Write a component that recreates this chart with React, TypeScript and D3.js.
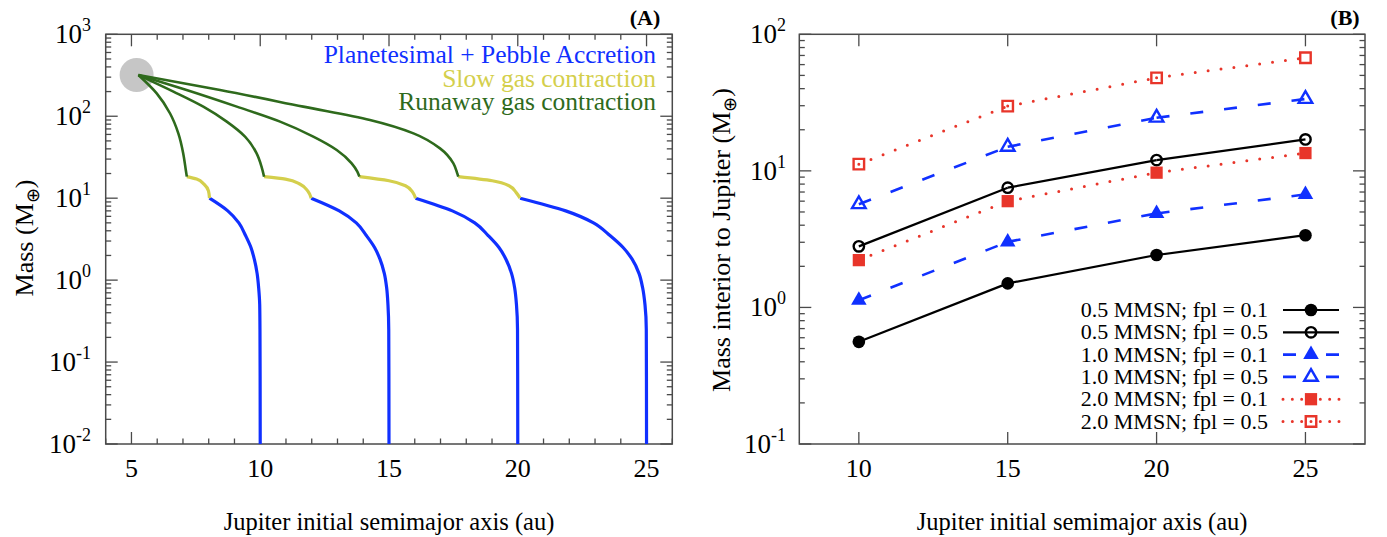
import React, { useEffect, useRef } from "react";
import * as d3 from "d3";

// ---- panel (A): formation tracks, points are [a (au), mass (M_earth)] ----
const jupiterNow: [number, number] = [5.2, 318];

const runawayTracks: [number, number][][] = [
  [[5.27, 318], [5.98, 190], [6.5, 108], [6.82, 61.8], [7.01, 35.2], [7.11, 22.1], [7.15, 18.3]],
  [[5.27, 318], [6.63, 200], [7.79, 131], [8.7, 85.9], [9.41, 56.4], [9.86, 35.2], [10.05, 24.3], [10.15, 18.3]],
  [[5.27, 318], [7.14, 209], [9.09, 131], [10.77, 85.9], [12.06, 56.4], [12.97, 38.7], [13.55, 26.6], [13.77, 21.1], [13.85, 18.3]],
  [[5.27, 318], [8.44, 209], [11.67, 131], [14.26, 89.9], [15.95, 61.8], [16.98, 40.5], [17.5, 26.6], [17.65, 20.1], [17.69, 18.3]],
];

const slowTracks: [number, number][][] = [
  [[7.15, 18.3], [7.53, 17.1], [7.82, 14.8], [7.99, 12.3], [8.03, 10]],
  [[10.15, 18.3], [10.98, 17.1], [11.55, 14.8], [11.84, 12.3], [11.98, 10]],
  [[13.85, 18.3], [15.0, 16.3], [15.64, 14.2], [15.93, 11.7], [16.03, 10]],
  [[17.69, 18.3], [19.01, 16.3], [19.66, 14.2], [19.94, 11.7], [20.09, 10]],
];

const accretionTracks: [number, number][][] = [
  [[8.03, 10], [8.74, 7], [9.17, 5], [9.43, 3.5], [9.64, 2.5], [9.77, 1.8], [9.88, 1.2], [9.94, 0.8], [9.98, 0.5], [9.99, 0.25], [10.0, 0.01]],
  [[11.98, 10], [13.07, 7], [13.73, 5], [14.12, 3.5], [14.44, 2.5], [14.65, 1.8], [14.82, 1.2], [14.91, 0.8], [14.96, 0.5], [14.99, 0.25], [15.0, 0.01]],
  [[16.03, 10], [17.46, 7], [18.33, 5], [18.85, 3.5], [19.27, 2.5], [19.54, 1.8], [19.76, 1.2], [19.88, 0.8], [19.95, 0.5], [19.99, 0.25], [20.0, 0.01]],
  [[20.09, 10], [21.86, 7], [22.94, 5], [23.58, 3.5], [24.09, 2.5], [24.44, 1.8], [24.71, 1.2], [24.85, 0.8], [24.94, 0.5], [24.99, 0.25], [25.0, 0.01]],
];

const legendA = [
  { label: "Planetesimal + Pebble Accretion", color: "#1030ff" },
  { label: "Slow gas contraction", color: "#d4cf4c" },
  { label: "Runaway gas contraction", color: "#2e6a1c" },
];

const ticksAx = [5, 10, 15, 20, 25];
const expsA = [-2, -1, 0, 1, 2, 3];

// ---- panel (B): mass interior to Jupiter ----
const initialAxis = [10, 15, 20, 25];
const m05fpl01 = [0.56, 1.5, 2.42, 3.38];
const m05fpl05 = [2.8, 7.53, 12.0, 17.0];
const m10fpl01 = [1.13, 3.02, 4.88, 6.72];
const m10fpl05 = [5.7, 15.0, 24.5, 33.6];
const m20fpl01 = [2.22, 6.0, 9.7, 13.5];
const m20fpl05 = [11.2, 29.8, 48.0, 67.4];

const ticksBx = [10, 15, 20, 25];
const expsB = [-1, 0, 1, 2];

const seriesB = [
  { label: "0.5 MMSN; fpl = 0.1", values: m05fpl01, color: "#000000", style: "solid", marker: "circle", filled: true },
  { label: "0.5 MMSN; fpl = 0.5", values: m05fpl05, color: "#000000", style: "solid", marker: "circle", filled: false },
  { label: "1.0 MMSN; fpl = 0.1", values: m10fpl01, color: "#1030ff", style: "dash", marker: "triangle", filled: true },
  { label: "1.0 MMSN; fpl = 0.5", values: m10fpl05, color: "#1030ff", style: "dash", marker: "triangle", filled: false },
  { label: "2.0 MMSN; fpl = 0.1", values: m20fpl01, color: "#e8352a", style: "dot", marker: "square", filled: true },
  { label: "2.0 MMSN; fpl = 0.5", values: m20fpl05, color: "#e8352a", style: "dot", marker: "square", filled: false },
];

const FONT = "'Liberation Serif', 'Times New Roman', serif";
const FRAME = "#4a4a4a";

const App: React.FC = () => {
  const svgRef = useRef<SVGSVGElement | null>(null);

  useEffect(() => {
    const svg = d3.select(svgRef.current);
    svg.selectAll("*").remove();

    const top = 34.3;
    const bottom = 444;

    const xA = d3.scaleLinear().domain([4, 26]).range([105.7, 672.3]);
    const yA = d3.scaleLog().domain([0.01, 1000]).range([bottom, top]);
    const xB = d3.scaleLinear().domain([8, 27]).range([799.3, 1365]);
    const yB = d3.scaleLog().domain([0.1, 100]).range([bottom, top]);

    const frame = (
      x: d3.ScaleLinear<number, number>,
      y: d3.ScaleLogarithmic<number, number>,
      xTicks: number[],
      xMinor: number[],
      exps: number[],
      labelRight: number
    ) => {
      const g = svg.append("g");
      const [x0, x1] = x.range();
      const [y1, y0] = y.range();
      const major = 12;
      const minor = 5.5;

      xTicks.forEach((t) => {
        g.append("line").attr("x1", x(t)).attr("x2", x(t)).attr("y1", y1).attr("y2", y1 - major);
        g.append("line").attr("x1", x(t)).attr("x2", x(t)).attr("y1", y0).attr("y2", y0 + major);
        g.append("text")
          .attr("x", x(t))
          .attr("y", 477)
          .attr("text-anchor", "middle")
          .attr("font-family", FONT)
          .attr("font-size", 26)
          .attr("fill", "#000")
          .text(t);
      });
      xMinor.forEach((t) => {
        g.append("line").attr("x1", x(t)).attr("x2", x(t)).attr("y1", y1).attr("y2", y1 - minor);
        g.append("line").attr("x1", x(t)).attr("x2", x(t)).attr("y1", y0).attr("y2", y0 + minor);
      });

      exps.forEach((e, i) => {
        const v = Math.pow(10, e);
        g.append("line").attr("x1", x0).attr("x2", x0 + major).attr("y1", y(v)).attr("y2", y(v));
        g.append("line").attr("x1", x1).attr("x2", x1 - major).attr("y1", y(v)).attr("y2", y(v));
        const label = g
          .append("text")
          .attr("x", labelRight)
          .attr("y", y(v) + 9)
          .attr("text-anchor", "end")
          .attr("font-family", FONT)
          .attr("font-size", 27)
          .attr("fill", "#000");
        label.append("tspan").text("10");
        label.append("tspan").attr("dy", -12).attr("font-size", 18).text(String(e));
        if (i < exps.length - 1) {
          for (let k = 2; k <= 9; k++) {
            const m = k * v;
            g.append("line").attr("x1", x0).attr("x2", x0 + minor).attr("y1", y(m)).attr("y2", y(m));
            g.append("line").attr("x1", x1).attr("x2", x1 - minor).attr("y1", y(m)).attr("y2", y(m));
          }
        }
      });

      g.selectAll("line").attr("stroke", FRAME).attr("stroke-width", 1.3);
      g.append("rect")
        .attr("x", x0)
        .attr("y", y0)
        .attr("width", x1 - x0)
        .attr("height", y1 - y0)
        .attr("fill", "none")
        .attr("stroke", FRAME)
        .attr("stroke-width", 1.5);
    };

    const minorA = d3.range(4, 27).filter((t) => t % 5 !== 0);
    frame(xA, yA, ticksAx, minorA, expsA, 91);
    frame(xB, yB, ticksBx, [], expsB, 786);

    // ---- panel A content ----
    const trackLine = d3
      .line<[number, number]>()
      .x((d) => xA(d[0]))
      .y((d) => yA(d[1]))
      .curve(d3.curveMonotoneY);

    const gA = svg.append("g");
    gA.append("circle")
      .attr("cx", xA(jupiterNow[0]))
      .attr("cy", yA(jupiterNow[1]))
      .attr("r", 17)
      .attr("fill", "#c6c6c6");

    accretionTracks.forEach((t) =>
      gA.append("path").attr("d", trackLine(t)).attr("fill", "none").attr("stroke", legendA[0].color).attr("stroke-width", 3.2)
    );
    slowTracks.forEach((t) =>
      gA.append("path").attr("d", trackLine(t)).attr("fill", "none").attr("stroke", legendA[1].color).attr("stroke-width", 3.2)
    );
    runawayTracks.forEach((t) =>
      gA.append("path").attr("d", trackLine(t)).attr("fill", "none").attr("stroke", legendA[2].color).attr("stroke-width", 2.6)
    );

    legendA.forEach((l, i) => {
      gA.append("text")
        .attr("x", 656)
        .attr("y", 63 + i * 23.5)
        .attr("text-anchor", "end")
        .attr("font-family", FONT)
        .attr("font-size", 25.5)
        .attr("fill", l.color)
        .text(l.label);
    });

    // ---- panel B content ----
    const gB = svg.append("g");
    const symbolOf = (m: string) =>
      m === "circle" ? d3.symbolCircle : m === "triangle" ? d3.symbolTriangle : d3.symbolSquare;
    const sizeOf = (m: string, filled: boolean) =>
      m === "circle" ? (filled ? 125 : 85) : m === "triangle" ? (filled ? 105 : 80) : filled ? 150 : 110;

    const strokeStyle = (sel: any, s: (typeof seriesB)[number]) => {
      sel.attr("stroke", s.color).attr("fill", "none");
      if (s.style === "solid") sel.attr("stroke-width", 2.2);
      if (s.style === "dash") sel.attr("stroke-width", 2.6).attr("stroke-dasharray", "13,21");
      if (s.style === "dot") sel.attr("stroke-width", 3).attr("stroke-linecap", "round").attr("stroke-dasharray", "0,13");
    };

    const drawMarker = (g: any, s: (typeof seriesB)[number], cx: number, cy: number) => {
      const path = d3.symbol().type(symbolOf(s.marker)).size(sizeOf(s.marker, s.filled))();
      g.append("path")
        .attr("d", path)
        .attr("transform", `translate(${cx},${cy})`)
        .attr("fill", s.filled ? s.color : "none")
        .attr("stroke", s.color)
        .attr("stroke-width", s.filled ? 0 : 2.4);
    };

    seriesB.forEach((s) => {
      for (let i = 0; i < initialAxis.length - 1; i++) {
        const seg = gB
          .append("line")
          .attr("x1", xB(initialAxis[i]))
          .attr("y1", yB(s.values[i]))
          .attr("x2", xB(initialAxis[i + 1]))
          .attr("y2", yB(s.values[i + 1]));
        strokeStyle(seg, s);
      }
      initialAxis.forEach((a, i) => drawMarker(gB, s, xB(a), yB(s.values[i])));
    });

    seriesB.forEach((s, i) => {
      const yy = 310 + i * 22.3;
      gB.append("text")
        .attr("x", 1268)
        .attr("y", yy + 7)
        .attr("text-anchor", "end")
        .attr("font-family", FONT)
        .attr("font-size", 22)
        .attr("fill", "#000")
        .text(s.label);
      const sample = gB.append("line").attr("x1", 1283).attr("x2", 1339).attr("y1", yy).attr("y2", yy);
      strokeStyle(sample, s);
      if (s.style === "dash") sample.attr("stroke-dasharray", "13,30");
      if (s.style === "dot") sample.attr("stroke-dasharray", "0,9.33");
      drawMarker(gB, s, 1311, yy);
    });

    // ---- titles ----
    const xTitle = "Jupiter initial semimajor axis (au)";
    [xA, xB].forEach((x) => {
      const [a, b] = x.range();
      svg.append("text")
        .attr("x", (a + b) / 2)
        .attr("y", 530)
        .attr("text-anchor", "middle")
        .attr("font-family", FONT)
        .attr("font-size", 24.5)
        .text(xTitle);
    });

    const yTitle = (cx: number, cy: number, prefix: string) => {
      const t = svg
        .append("text")
        .attr("transform", `translate(${cx},${cy}) rotate(-90)`)
        .attr("text-anchor", "middle")
        .attr("font-family", FONT)
        .attr("font-size", 26);
      t.append("tspan").text(prefix + " (M");
      t.append("tspan").attr("dy", 6).attr("font-size", 18).text("\u2295");
      t.append("tspan").attr("dy", -6).text(")");
    };
    yTitle(33, 238, "Mass");
    yTitle(730, 240, "Mass interior to Jupiter");

    svg.append("text").attr("x", 645).attr("y", 25).attr("text-anchor", "middle").attr("font-family", FONT).attr("font-size", 22).attr("font-weight", "bold").text("(A)");
    svg.append("text").attr("x", 1345).attr("y", 25).attr("text-anchor", "middle").attr("font-family", FONT).attr("font-size", 22).attr("font-weight", "bold").text("(B)");
  }, []);

  return (
    <svg
      ref={svgRef}
      width={1387}
      height={537}
      style={{ position: "absolute", left: 0, top: 0, background: "#fff", fontFamily: FONT }}
    />
  );
};

export default App;
